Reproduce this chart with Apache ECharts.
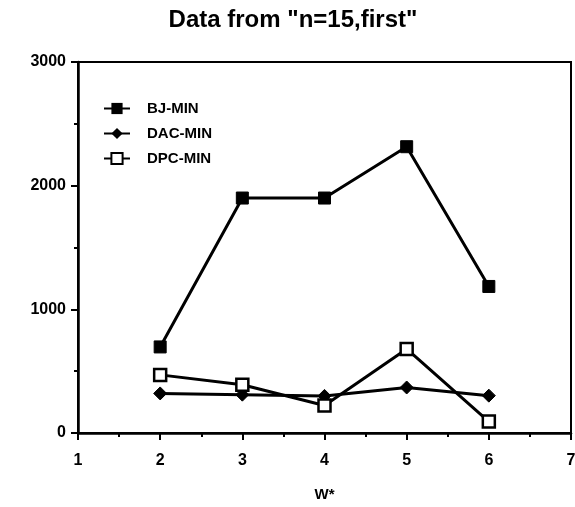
<!DOCTYPE html>
<html><head><meta charset="utf-8">
<script src="https://cdn.jsdelivr.net/npm/echarts@6/dist/echarts.min.js"></script>
<style>html,body{margin:0;padding:0;background:#fff}#c{width:575px;height:507px}</style>
</head><body><div id="c"></div>
<script>
const xValues = [2, 3, 4, 5, 6];
const bjMin = [696, 1900, 1900, 2315, 1185];
const dacMin = [320, 310, 300, 368, 302];
const dpcMin = [470, 390, 222, 680, 92];
const seriesNames = ['BJ-MIN', 'DAC-MIN', 'DPC-MIN'];
const titleText = 'Data from "n=15,first"';
const xName = 'W*';

const pair = arr => xValues.map((x, i) => [x, arr[i]]);
const chart = echarts.init(document.getElementById('c'));
const ff = '"Liberation Sans", Arial, sans-serif';
chart.setOption({
  animation: false,
  title: { text: titleText, left: 288, top: 3, textAlign: 'center',
    textStyle: { fontFamily: ff, fontWeight: 'bold', fontSize: 24, color: '#000' } },
  legend: { orient: 'vertical', left: 98, top: 96, itemWidth: 26, itemHeight: 14, itemGap: 10,
    textStyle: { fontFamily: ff, fontWeight: 'bold', fontSize: 15, color: '#000', padding: [0,0,0,12] },
    data: seriesNames },
  grid: { left: 78, right: 4, top: 62, bottom: 74, show: true, borderColor: '#000', borderWidth: 2,
    containLabel: false, outerBoundsMode: 'none' },
  xAxis: { type: 'value', min: 1, max: 7, interval: 1, name: xName, nameLocation: 'middle', nameGap: 54,
    nameTextStyle: { fontFamily: ff, fontWeight: 'bold', fontSize: 15, color: '#000' },
    axisLine: { lineStyle: { color: '#000', width: 2.5 } },
    axisTick: { inside: false, length: 7, lineStyle: { color: '#000', width: 2 } },
    minorTick: { show: true, splitNumber: 2, length: 4, lineStyle: { color: '#000', width: 2 } },
    splitLine: { show: false },
    axisLabel: { fontFamily: ff, fontWeight: 'bold', fontSize: 16, color: '#000', margin: 20 } },
  yAxis: { type: 'value', min: 0, max: 3000, interval: 1000,
    axisLine: { show: true, lineStyle: { color: '#000', width: 2.5 } },
    axisTick: { show: true, inside: false, length: 7, lineStyle: { color: '#000', width: 2 } },
    minorTick: { show: true, splitNumber: 2, length: 4, lineStyle: { color: '#000', width: 2 } },
    splitLine: { show: false },
    axisLabel: { fontFamily: ff, fontWeight: 'bold', fontSize: 16, color: '#000', margin: 12,
      formatter: v => String(v) } },
  series: [
    { name: seriesNames[0], type: 'line', data: pair(bjMin), symbol: 'rect', symbolSize: 12,
      lineStyle: { color: '#000', width: 3 }, itemStyle: { color: '#000', borderColor: '#000' } },
    { name: seriesNames[1], type: 'line', data: pair(dacMin), symbol: 'diamond', symbolSize: 13,
      lineStyle: { color: '#000', width: 3 }, itemStyle: { color: '#000', borderColor: '#000' } },
    { name: seriesNames[2], type: 'line', data: pair(dpcMin), symbol: 'rect', symbolSize: 12,
      lineStyle: { color: '#000', width: 3 }, itemStyle: { color: '#fff', borderColor: '#000', borderWidth: 2.5 } }
  ]
});
</script></body></html>
